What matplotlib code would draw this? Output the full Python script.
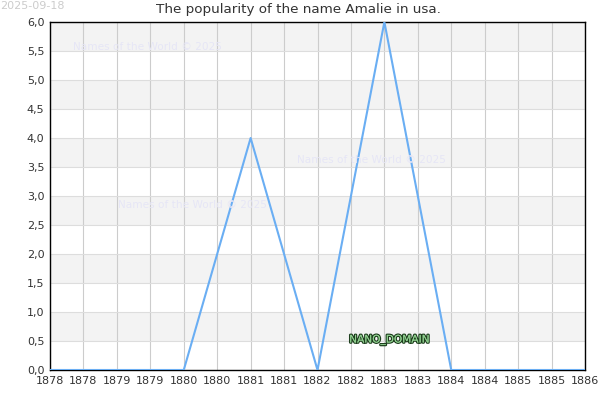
import numpy as np
import matplotlib
matplotlib.use("Agg")
import matplotlib.pyplot as plt
import matplotlib.patheffects as pe
from matplotlib.ticker import FuncFormatter, MultipleLocator

years = [1878, 1879, 1880, 1881, 1882, 1883, 1884, 1885, 1886]
counts = [0, 0, 0, 4, 0, 6, 0, 0, 0]

fig = plt.figure(figsize=(6, 4), dpi=100, facecolor="white")
ax = fig.add_axes([50 / 600, 30 / 400, 535 / 600, 348 / 400])

# alternating bands
for lo in np.arange(0.5, 6.0, 1.0):
    ax.axhspan(lo, lo + 0.5, color="#f3f3f3", zorder=0, lw=0)

ax.plot(years, counts, color="#6aaef3", lw=1.5, zorder=3)

ax.set_xlim(1878, 1886)
ax.set_ylim(0, 6)
ax.xaxis.set_major_locator(MultipleLocator(0.5))
ax.yaxis.set_major_locator(MultipleLocator(0.5))
ax.xaxis.set_major_formatter(FuncFormatter(lambda v, p: "%d" % int(v)))
ax.yaxis.set_major_formatter(FuncFormatter(lambda v, p: ("%.1f" % v).replace(".", ",")))
ax.tick_params(labelsize=8, colors="#333333", length=0, pad=4)
ax.grid(axis="x", color="#cccccc", lw=0.8, zorder=1)
ax.grid(axis="y", color="#dddddd", lw=0.8, zorder=1)
ax.set_axisbelow(True)
for s in ax.spines.values():
    s.set_color("black")
    s.set_linewidth(1)

fig.text(299 / 600, 1 - 10 / 400, "The popularity of the name Amalie in usa.",
         fontsize=9.7, color="#333333", ha="center", va="center")
fig.text(0.0, 0.997, "2025-09-18", fontsize=8, color="#cccccc", ha="left", va="top")

wm = "Names of the World © 2025"
for (x, y) in [(73, 47), (297, 160), (118, 205)]:
    fig.text(x / 600, 1 - y / 400, wm, fontsize=7.6, color="#e6e6f6", ha="left", va="center", zorder=2)

fig.text(389 / 600, 1 - 340 / 400, "NANO_DOMAIN", fontsize=7.6, color="#8fcf8f", ha="center", va="center",
         path_effects=[pe.withStroke(linewidth=1.8, foreground="#1e3f1e"), pe.Normal()], zorder=5)

plt.savefig("out.png", dpi=100)
plt.close(fig)
